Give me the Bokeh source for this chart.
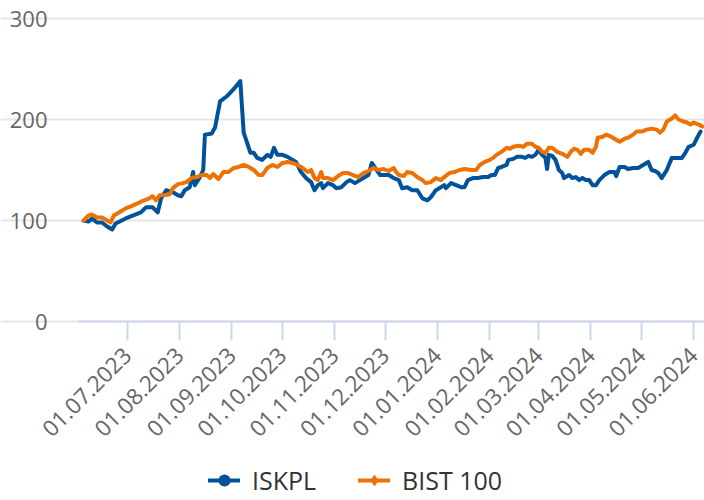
import math
import pandas as pd
from bokeh.plotting import figure
from bokeh.models import (Range1d, MonthsTicker, DatetimeTickFormatter, FixedTicker,
                          Legend, LegendItem, ColumnDataSource)
from bokeh.embed import file_html
from bokeh.resources import INLINE

# ---------------- data ----------------
iskpl_dates = [
    "2023-06-05", "2023-06-08", "2023-06-10", "2023-06-13", "2023-06-16", "2023-06-19",
    "2023-06-22", "2023-06-24", "2023-06-30", "2023-07-06", "2023-07-09", "2023-07-12",
    "2023-07-16", "2023-07-19", "2023-07-21", "2023-07-24", "2023-07-28", "2023-07-31",
    "2023-08-02", "2023-08-04", "2023-08-07", "2023-08-09", "2023-08-10", "2023-08-13",
    "2023-08-15", "2023-08-16", "2023-08-20", "2023-08-22", "2023-08-25", "2023-08-29",
    "2023-09-02", "2023-09-06", "2023-09-08", "2023-09-10", "2023-09-12", "2023-09-14",
    "2023-09-16", "2023-09-19", "2023-09-22", "2023-09-24", "2023-09-26", "2023-09-28",
    "2023-10-01", "2023-10-04", "2023-10-07", "2023-10-09", "2023-10-12", "2023-10-15",
    "2023-10-18", "2023-10-20", "2023-10-22", "2023-10-24", "2023-10-25", "2023-10-28",
    "2023-10-31", "2023-11-02", "2023-11-05", "2023-11-08", "2023-11-10", "2023-11-13",
    "2023-11-16", "2023-11-19", "2023-11-21", "2023-11-23", "2023-11-25", "2023-11-28",
    "2023-12-03", "2023-12-06", "2023-12-09", "2023-12-11", "2023-12-14", "2023-12-17",
    "2023-12-20", "2023-12-23", "2023-12-26", "2023-12-28", "2023-12-31", "2024-01-03",
    "2024-01-05", "2024-01-06", "2024-01-09", "2024-01-12", "2024-01-15", "2024-01-17",
    "2024-01-19", "2024-01-22", "2024-01-25", "2024-01-28", "2024-01-31", "2024-02-02",
    "2024-02-04", "2024-02-06", "2024-02-08", "2024-02-11", "2024-02-12", "2024-02-15",
    "2024-02-17", "2024-02-20", "2024-02-22", "2024-02-24", "2024-02-26", "2024-02-28",
    "2024-03-01", "2024-03-03", "2024-03-05", "2024-03-06", "2024-03-07", "2024-03-09",
    "2024-03-11", "2024-03-13", "2024-03-15", "2024-03-16", "2024-03-19", "2024-03-21",
    "2024-03-23", "2024-03-25", "2024-03-27", "2024-03-29", "2024-03-31", "2024-04-02",
    "2024-04-04", "2024-04-06", "2024-04-09", "2024-04-12", "2024-04-15", "2024-04-16",
    "2024-04-18", "2024-04-21", "2024-04-23", "2024-04-26", "2024-04-29", "2024-05-02",
    "2024-05-05", "2024-05-07", "2024-05-09", "2024-05-11", "2024-05-13", "2024-05-16",
    "2024-05-19", "2024-05-22", "2024-05-25", "2024-05-27", "2024-05-29", "2024-06-01",
    "2024-06-03", "2024-06-05",
]
iskpl_values = [
    100, 99, 102, 98, 98, 94,
    91, 97, 102, 106, 108, 113,
    113, 108, 122, 130, 128, 125,
    124, 130, 133, 148, 135, 143,
    150, 185, 186, 192, 218, 223,
    230, 238, 187, 177, 167, 167,
    162, 160, 165, 163, 172, 165,
    165, 163, 160, 158, 148, 142,
    138, 130, 135, 137, 132, 137,
    135, 132, 133, 138, 140, 137,
    140, 143, 145, 157, 152, 145,
    145, 142, 140, 132, 133, 130,
    130, 122, 120, 123, 130, 133,
    135, 132, 137, 135, 133, 133,
    140, 142, 142, 143, 143, 145,
    145, 152, 153, 155, 160, 161,
    163, 163, 162, 164, 163, 165,
    170, 165, 162, 151, 165, 164,
    160, 150, 147, 142, 145, 142,
    143, 140, 142, 140, 140, 135,
    135, 140, 145, 148, 148, 144,
    153, 153, 151, 152, 152, 155,
    158, 150, 149, 147, 142, 150,
    162, 162, 162, 167, 173, 175,
    182, 188,
]

bist_dates = [
    "2023-06-05", "2023-06-08", "2023-06-10", "2023-06-13", "2023-06-16", "2023-06-18",
    "2023-06-21", "2023-06-23", "2023-06-26", "2023-06-30", "2023-07-03", "2023-07-07",
    "2023-07-11", "2023-07-14", "2023-07-16", "2023-07-18", "2023-07-20", "2023-07-23",
    "2023-07-26", "2023-07-28", "2023-07-31", "2023-08-03", "2023-08-05", "2023-08-08",
    "2023-08-11", "2023-08-14", "2023-08-17", "2023-08-19", "2023-08-21", "2023-08-24",
    "2023-08-27", "2023-08-30", "2023-09-02", "2023-09-05", "2023-09-08", "2023-09-11",
    "2023-09-14", "2023-09-17", "2023-09-19", "2023-09-22", "2023-09-25", "2023-09-28",
    "2023-10-01", "2023-10-04", "2023-10-07", "2023-10-10", "2023-10-13", "2023-10-16",
    "2023-10-18", "2023-10-20", "2023-10-22", "2023-10-24", "2023-10-25", "2023-10-28",
    "2023-10-31", "2023-11-03", "2023-11-06", "2023-11-09", "2023-11-12", "2023-11-15",
    "2023-11-18", "2023-11-21", "2023-11-24", "2023-11-27", "2023-11-30", "2023-12-03",
    "2023-12-06", "2023-12-07", "2023-12-09", "2023-12-12", "2023-12-14", "2023-12-17",
    "2023-12-20", "2023-12-23", "2023-12-25", "2023-12-28", "2023-12-31", "2024-01-03",
    "2024-01-05", "2024-01-08", "2024-01-11", "2024-01-14", "2024-01-17", "2024-01-21",
    "2024-01-24", "2024-01-26", "2024-01-29", "2024-02-01", "2024-02-03", "2024-02-05",
    "2024-02-08", "2024-02-11", "2024-02-13", "2024-02-15", "2024-02-18", "2024-02-21",
    "2024-02-23", "2024-02-26", "2024-02-28", "2024-03-01", "2024-03-03", "2024-03-05",
    "2024-03-07", "2024-03-09", "2024-03-12", "2024-03-15", "2024-03-18", "2024-03-20",
    "2024-03-22", "2024-03-24", "2024-03-26", "2024-03-28", "2024-03-31", "2024-04-02",
    "2024-04-04", "2024-04-05", "2024-04-08", "2024-04-10", "2024-04-13", "2024-04-16",
    "2024-04-18", "2024-04-21", "2024-04-23", "2024-04-26", "2024-04-28", "2024-05-01",
    "2024-05-04", "2024-05-07", "2024-05-10", "2024-05-12", "2024-05-14", "2024-05-16",
    "2024-05-19", "2024-05-21", "2024-05-23", "2024-05-26", "2024-05-28", "2024-05-30",
    "2024-06-01", "2024-06-04", "2024-06-06",
]
bist_values = [
    100, 105, 106, 103, 103, 101,
    98, 105, 108, 112, 114, 117,
    120, 122, 124, 120, 125, 125,
    126, 132, 136, 137, 138, 142,
    143, 145, 145, 142, 146, 141,
    148, 148, 152, 153, 155, 153,
    150, 145, 145, 152, 155, 153,
    157, 158, 157, 155, 152, 148,
    150, 142, 140, 148, 142, 142,
    140, 144, 147, 147, 145, 143,
    147, 149, 152, 150, 151, 149,
    152, 149, 145, 144, 148, 147,
    143, 140, 137, 138, 142, 140,
    143, 147, 148, 150, 151, 150,
    150, 155, 158, 160, 162, 165,
    168, 172, 171, 173, 174, 173,
    176, 176, 173, 172, 168, 167,
    172, 172, 168, 166, 163, 168,
    171, 170, 166, 170, 170, 167,
    173, 182, 183, 185, 183, 180,
    178, 181, 182, 185, 188, 188,
    190, 191, 190, 187, 190, 198,
    201, 204, 200, 198, 197, 195,
    197, 195, 193,
]

series_names = ["ISKPL", "BIST 100"]
series_colors = ["#00529b", "#ee7203"]
y_ticks = [0, 100, 200, 300]
y_min_val, y_max_val = 0, 300
x_start = "2023-06-02"
x_end = "2024-06-07 09:00"

FONT = "Open Sans"

# ---------------- layout (pixels) ----------------
W, H = 704, 500
PLOT_L, PLOT_R = 78, 704      # value area, horizontally
PLOT_T, PLOT_B = 18, 321      # value area, vertically

t0 = pd.Timestamp(x_start).value / 1e6   # ms
t1 = pd.Timestamp(x_end).value / 1e6
ms_per_px = (t1 - t0) / (PLOT_R - PLOT_L)
u_per_px = (y_max_val - y_min_val) / (PLOT_B - PLOT_T)

x_range = Range1d(t0 - PLOT_L * ms_per_px, t1 + (W - PLOT_R) * ms_per_px)
y_range = Range1d(y_min_val - (H - PLOT_B) * u_per_px, y_max_val + PLOT_T * u_per_px)

src_i = ColumnDataSource(dict(x=pd.to_datetime(iskpl_dates), y=iskpl_values))
src_b = ColumnDataSource(dict(x=pd.to_datetime(bist_dates), y=bist_values))

p = figure(width=W, height=H, output_backend="svg", toolbar_location=None,
           x_axis_type="datetime", x_range=x_range, y_range=y_range,
           min_border=0, min_border_left=0, min_border_right=0,
           min_border_top=0, min_border_bottom=0)
p.outline_line_color = None
p.background_fill_color = "white"
p.border_fill_color = "white"

# grid
p.xgrid.visible = False
p.ygrid.grid_line_color = "#e6e6e6"
p.ygrid.grid_line_width = 2
p.ygrid.bounds = (t0, x_range.end)

# y axis (pinned at left edge of value area)
ya = p.yaxis[0]
ya.fixed_location = t0
ya.bounds = (y_min_val, y_max_val)
ya.ticker = FixedTicker(ticks=y_ticks)
ya.axis_line_color = None
ya.major_tick_line_color = None
ya.major_tick_out = 0
ya.minor_tick_line_color = None
ya.major_label_standoff = 31
ya.major_label_text_font = FONT
ya.major_label_text_font_size = "22px"
ya.major_label_text_color = "#666666"

# x axis (pinned at y=0)
xa = p.xaxis[0]
xa.fixed_location = y_min_val
xa.bounds = (t0, x_range.end)
xa.ticker = MonthsTicker(months=list(range(1, 13)))
fmt = "%d.%m.%Y"
xa.formatter = DatetimeTickFormatter(days=fmt, months=fmt, years=fmt, hours=fmt,
                                     minutes=fmt, seconds=fmt, milliseconds=fmt,
                                     microseconds=fmt, hourmin=fmt, minsec=fmt)
xa.axis_line_color = "#ccd6eb"
xa.axis_line_width = 2
xa.major_tick_line_color = "#ccd6eb"
xa.major_tick_line_width = 2
xa.major_tick_out = 19
xa.major_tick_in = 0
xa.minor_tick_line_color = None
xa.major_label_orientation = math.pi / 4
xa.major_label_standoff = 11
xa.major_label_text_font = FONT
xa.major_label_text_font_size = "22.5px"
xa.major_label_text_color = "#666666"

# lines
l_i = p.line("x", "y", source=src_i, line_color=series_colors[0], line_width=4,
             line_join="round", line_cap="round")
l_b = p.line("x", "y", source=src_b, line_color=series_colors[1], line_width=4,
             line_join="round", line_cap="round")

# legend-only markers (no visible point in the plot)
nan = float("nan")
m_i = p.scatter("x", "y", source=ColumnDataSource(dict(x=[nan], y=[nan])),
                marker="circle", size=12, fill_color=series_colors[0], line_color=None)
m_b = p.scatter("x", "y", source=ColumnDataSource(dict(x=[nan], y=[nan])),
                marker="diamond", size=15,
                fill_color=series_colors[1], line_color=None)

legend = Legend(items=[LegendItem(label=series_names[0], renderers=[l_i, m_i]),
                       LegendItem(label=series_names[1], renderers=[l_b, m_b])],
                orientation="horizontal", location=(208, 3),
                border_line_color=None, background_fill_alpha=0,
                padding=0, margin=0, spacing=42, label_standoff=12,
                glyph_width=32, glyph_height=30,
                label_text_font=FONT, label_text_font_size="25px",
                label_text_color="#333333")
p.add_layout(legend, "center")

open("out.html", "w").write(file_html(p, INLINE))
